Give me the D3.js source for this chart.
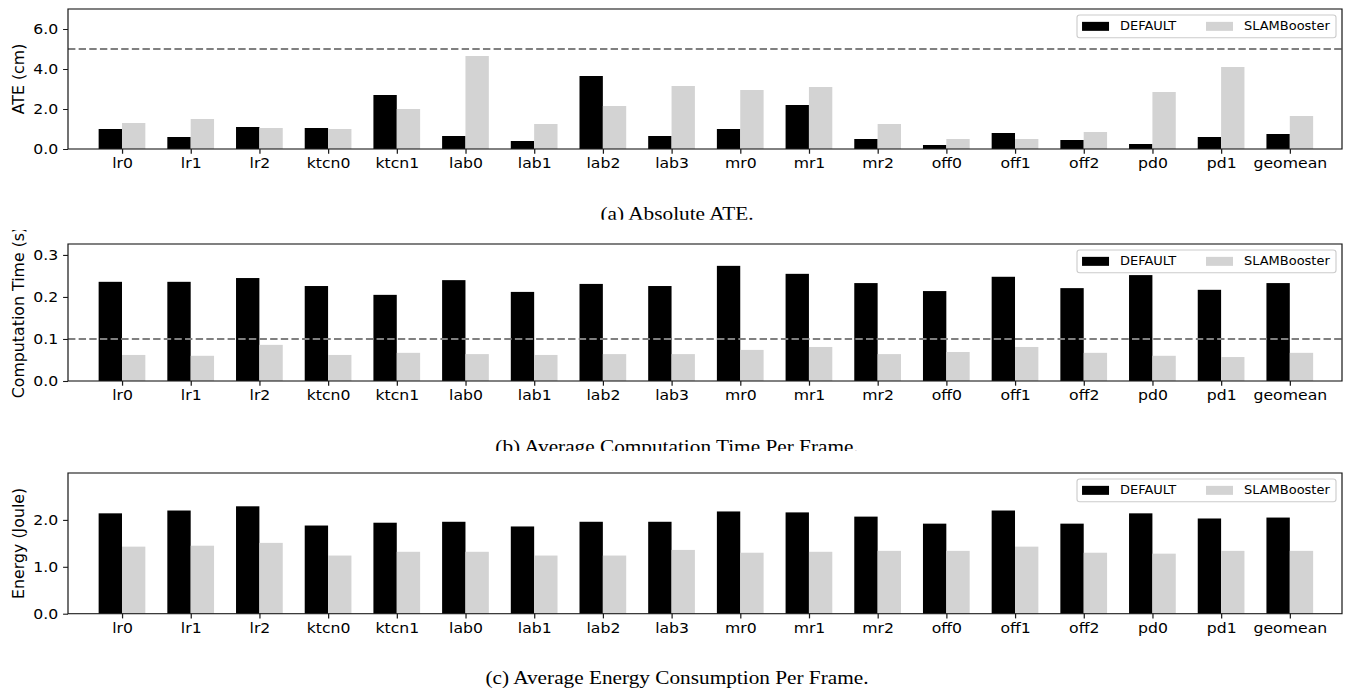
<!DOCTYPE html>
<html>
<head>
<meta charset="utf-8">
<script src="https://cdn.jsdelivr.net/npm/d3@7"></script>
<style>
  html, body { margin: 0; padding: 0; background: #fff; }
  svg { display: block; }
</style>
</head>
<body>
<script>
// Benchmarks on the x axis
const categories = ["lr0", "lr1", "lr2", "ktcn0", "ktcn1", "lab0", "lab1", "lab2", "lab3",
                    "mr0", "mr1", "mr2", "off0", "off1", "off2", "pd0", "pd1", "geomean"];
const seriesNames = ["DEFAULT", "SLAMBooster"];

// (a) Absolute trajectory error, cm
const ateDefault = [1.0, 0.6, 1.1, 1.05, 2.7, 0.65, 0.4, 3.65, 0.65, 1.0, 2.2, 0.5, 0.2, 0.8, 0.45, 0.25, 0.6, 0.75];
const ateBooster = [1.3, 1.5, 1.05, 1.0, 2.0, 4.65, 1.25, 2.15, 3.15, 2.95, 3.1, 1.25, 0.5, 0.5, 0.85, 2.85, 4.1, 1.65];

// (b) Average computation time per frame, s
const timeDefault = [0.236, 0.236, 0.245, 0.226, 0.205, 0.240, 0.212, 0.231, 0.226, 0.274, 0.255, 0.233, 0.214, 0.248, 0.221, 0.252, 0.217, 0.233];
const timeBooster = [0.062, 0.060, 0.086, 0.062, 0.067, 0.064, 0.062, 0.064, 0.064, 0.074, 0.081, 0.064, 0.069, 0.081, 0.067, 0.060, 0.057, 0.067];

// (c) Average energy consumption per frame, Joule
const energyDefault = [2.14, 2.20, 2.29, 1.88, 1.94, 1.96, 1.86, 1.96, 1.96, 2.18, 2.16, 2.07, 1.92, 2.20, 1.92, 2.14, 2.03, 2.05];
const energyBooster = [1.43, 1.45, 1.51, 1.24, 1.32, 1.32, 1.24, 1.24, 1.36, 1.30, 1.32, 1.34, 1.34, 1.43, 1.30, 1.28, 1.34, 1.34];

// Axis ticks, limits and reference lines
const ateTicks = [0, 2, 4, 6];
const timeTicks = [0, 0.1, 0.2, 0.3];
const energyTicks = [0, 1, 2];
const yMaxes = [7.0, 0.326, 3.0];
const thresholds = [5.0, 0.1, null];
const yLabels = ["ATE (cm)", "Computation Time (s)", "Energy (Joule)"];
const captions = ["(a) Absolute ATE.", "(b) Average Computation Time Per Frame.",
                  "(c) Average Energy Consumption Per Frame."];

// The figure is laid out narrower and stretched horizontally to fill the page
const S = 1.12;
const PAGE_W = 1347, PAGE_H = 689;
const W = PAGE_W / S;

const svg = d3.select("body").append("svg")
  .attr("width", PAGE_W).attr("height", PAGE_H)
  .attr("viewBox", `0 0 ${W} ${PAGE_H}`)
  .attr("preserveAspectRatio", "none");

const plotLeft = 68 / S, plotRight = 1342 / S;
const x = d3.scaleLinear().domain([-0.786, 17.76]).range([plotLeft, plotRight]);
const barW = x(0.34) - x(0);

const panels = [
  { def: ateDefault, boo: ateBooster, ticks: ateTicks, fmt: d3.format(".1f"),
    top: 9, bottom: 149, clip: [0, 219.8], capY: 220.3 },
  { def: timeDefault, boo: timeBooster, ticks: timeTicks, fmt: d3.format(".1f"),
    top: 244, bottom: 381, clip: [230, 451], capY: 452.6 },
  { def: energyDefault, boo: energyBooster, ticks: energyTicks, fmt: d3.format(".1f"),
    top: 473, bottom: 613.7, clip: [460, 689], capY: 684.3 }
];

const defs = svg.append("defs");
const font = "'DejaVu Sans', sans-serif";

panels.forEach((p, k) => {
  const clipId = "panel-clip-" + k;
  defs.append("clipPath").attr("id", clipId)
    .append("rect").attr("x", 0).attr("y", p.clip[0])
    .attr("width", W).attr("height", p.clip[1] - p.clip[0]);

  const g = svg.append("g").attr("clip-path", `url(#${clipId})`);
  const y = d3.scaleLinear().domain([0, yMaxes[k]]).range([p.bottom, p.top]);

  // bars
  const rows = categories.map((c, i) => ({ i, a: p.def[i], b: p.boo[i] }));
  g.append("g").selectAll("rect").data(rows).join("rect")
    .attr("x", d => x(d.i) - barW).attr("width", barW)
    .attr("y", d => y(d.a)).attr("height", d => y(0) - y(d.a))
    .attr("fill", "#000");
  g.append("g").selectAll("rect").data(rows).join("rect")
    .attr("x", d => x(d.i)).attr("width", barW)
    .attr("y", d => y(d.b)).attr("height", d => y(0) - y(d.b))
    .attr("fill", "#d3d3d3");

  // reference line
  if (thresholds[k] !== null) {
    g.append("line")
      .attr("x1", plotLeft).attr("x2", plotRight)
      .attr("y1", y(thresholds[k])).attr("y2", y(thresholds[k]))
      .attr("stroke", "#808080").attr("stroke-width", 2)
      .attr("stroke-dasharray", "6.6,2.9");
  }

  // frame
  g.append("rect")
    .attr("x", plotLeft).attr("y", p.top)
    .attr("width", plotRight - plotLeft).attr("height", p.bottom - p.top)
    .attr("fill", "none").attr("stroke", "#1a1a1a").attr("stroke-width", 1.1);

  // axes
  const xAxis = g.append("g").attr("transform", `translate(0,${p.bottom})`)
    .call(d3.axisBottom(x).tickValues(d3.range(categories.length))
      .tickFormat(i => categories[i]).tickSize(4.7).tickPadding(4.5));
  const yAxis = g.append("g").attr("transform", `translate(${plotLeft},0)`)
    .call(d3.axisLeft(y).tickValues(p.ticks).tickFormat(p.fmt)
      .tickSize(4.4).tickPadding(4.4));
  [xAxis, yAxis].forEach(ax => {
    ax.select(".domain").remove();
    ax.selectAll(".tick line").attr("stroke", "#1a1a1a").attr("stroke-width", 1.1);
    ax.selectAll(".tick text").attr("fill", "#000")
      .style("font-family", font).style("font-size", "14px");
  });

  // y label (rotated text keeps its natural proportions)
  g.append("text")
    .attr("transform", `translate(${18 / S},${(p.top + p.bottom) / 2}) scale(${1 / S},1) rotate(-90)`)
    .attr("text-anchor", "middle").attr("dominant-baseline", "central")
    .style("font-family", font).style("font-size", "15.8px")
    .text(yLabels[k]);

  // legend
  const lx = 1077 / S, ly = p.top + 6, lw = (1336 - 1077) / S, lh = 22.7;
  const lg = g.append("g").attr("transform", `translate(${lx},${ly})`);
  lg.append("rect").attr("width", lw).attr("height", lh).attr("rx", 2.5)
    .attr("fill", "#fff").attr("fill-opacity", 0.8)
    .attr("stroke", "#cccccc").attr("stroke-width", 1);
  const items = [
    { name: seriesNames[0], color: "#000", px: 4.5, tx: 38.4 },
    { name: seriesNames[1], color: "#d3d3d3", px: 115.2, tx: 149.1 }
  ];
  items.forEach(it => {
    lg.append("rect").attr("x", it.px).attr("y", lh / 2 - 4.5)
      .attr("width", 24.1).attr("height", 9).attr("fill", it.color);
    lg.append("text").attr("x", it.tx).attr("y", lh / 2)
      .attr("dominant-baseline", "central")
      .style("font-family", font).style("font-size", "11.6px")
      .text(it.name);
  });

  // caption
  g.append("text")
    .attr("x", 677 / S).attr("y", p.capY)
    .attr("text-anchor", "middle")
    .style("font-family", "'Liberation Serif', 'Times New Roman', serif")
    .style("font-size", "19px")
    .text(captions[k]);
});
</script>
</body>
</html>
